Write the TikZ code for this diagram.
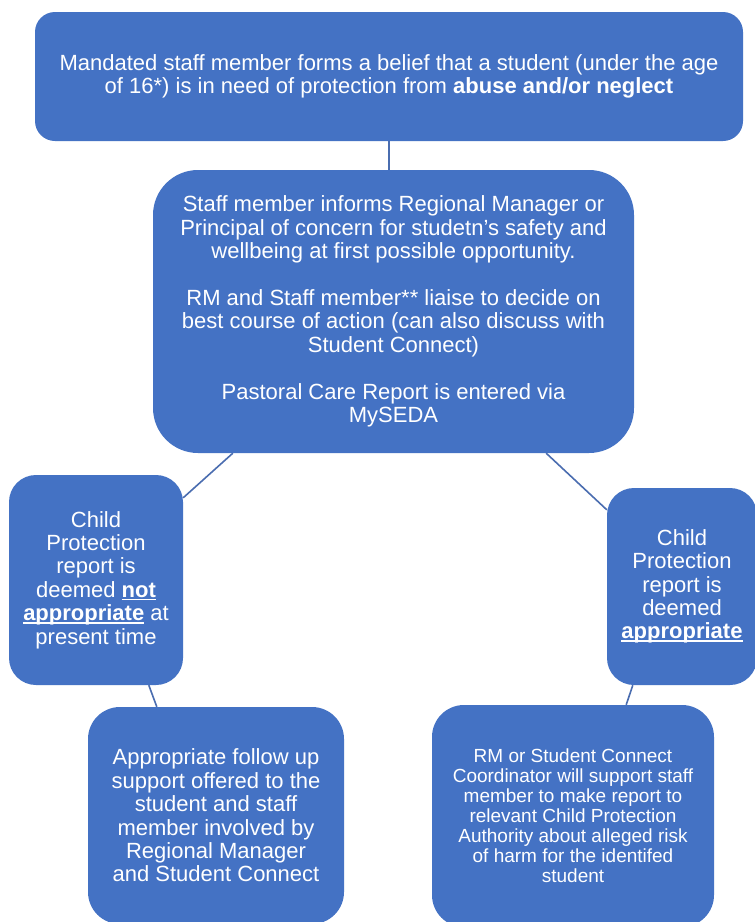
\documentclass[tikz,border=0pt]{standalone}
\usepackage{fontspec}
\setmainfont{Liberation Sans}
\usetikzlibrary{calc}
\definecolor{boxblue}{HTML}{4472C4}
\definecolor{linkblue}{HTML}{4A6DB0}
\newlength\wordulw
\newcommand\wordul[1]{\settowidth{\wordulw}{#1}\rlap{\rule[-2.8pt]{\wordulw}{1.3pt}}#1}
\begin{document}
\begin{tikzpicture}[x=1pt,y=-1pt,
  flowbox/.style={fill=boxblue, text=white, align=center, inner sep=0pt,
    font=\fontsize{22}{23.4}\selectfont},
  smalltext/.style={font=\fontsize{19}{20}\selectfont},
  link/.style={draw=linkblue, line width=1.6pt}]
\useasboundingbox[fill=white] (0,0) rectangle (755,922);

\node[flowbox, minimum width=708pt, minimum height=129pt, rounded corners=20pt] (top) at (389,76.5)
  {Mandated staff member forms a belief that a student (under the age\\
   of 16*) is in need of protection from \textbf{abuse and/or neglect}};

\node[flowbox, minimum width=481pt, minimum height=283pt, rounded corners=45pt] (mid) at (393.5,311.5)
  {Staff member informs Regional Manager or\\
   Principal of concern for studetn's safety and\\
   wellbeing at first possible opportunity.\\[23.4pt]
   RM and Staff member** liaise to decide on\\
   best course of action (can also discuss with\\
   Student Connect)\\[23.4pt]
   Pastoral Care Report is entered via\\
   MySEDA};

\node[flowbox, minimum width=174pt, minimum height=210pt, rounded corners=27pt] (left) at (96,580)
  {Child\\ Protection\\ report is\\ deemed \textbf{\wordul{not}}\\
   \textbf{\wordul{appropriate}} at\\ present time};

\node[flowbox, minimum width=150pt, minimum height=197pt, rounded corners=27pt] (right) at (682,586.5)
  {Child\\ Protection\\ report is\\ deemed\\ \textbf{\wordul{appropriate}}};

\node[flowbox, minimum width=256pt, minimum height=217pt, rounded corners=32pt] (bl) at (216,815.5)
  {Appropriate follow up\\ support offered to the\\ student and staff\\
   member involved by\\ Regional Manager\\ and Student Connect};

\node[flowbox, smalltext, minimum width=282pt, minimum height=222pt, rounded corners=32pt] (br) at (573,816)
  {RM or Student Connect\\ Coordinator will support staff\\ member to make report to\\
   relevant Child Protection\\ Authority about alleged risk\\ of harm for the identifed\\ student};

\draw[link] (top.south) -- (top.south |- mid.north);
\draw[link] ($(mid.south west)+(80,0)$) -- ($(left.north east)+(0,23)$);
\draw[link] ($(mid.south east)+(-88,0)$) -- ($(right.north west)+(0,22)$);
\draw[link] ($(left.south west)+(140,0)$) -- ($(bl.north west)+(69,0)$);
\draw[link] ($(right.south west)+(26,0)$) -- ($(br.north east)+(-88,0)$);
\end{tikzpicture}
\end{document}
